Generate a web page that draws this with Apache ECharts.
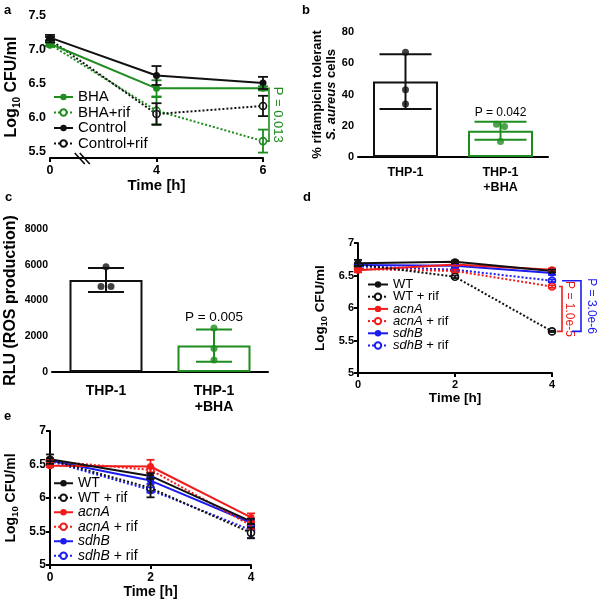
<!DOCTYPE html>
<html><head><meta charset="utf-8">
<script src="https://cdn.jsdelivr.net/npm/echarts@6/dist/echarts.min.js"></script>
<style>html,body{margin:0;padding:0;background:#fff}#c{width:597px;height:600px}</style>
</head><body><div id="c"></div>
<script>
const FONT = '"Liberation Sans", Arial, Helvetica, sans-serif';
const GREEN = '#1e8c1e', BLACK = '#111111', RED = '#f01c1c', BLUE = '#1c1cf0';

// ---------- Panel a ----------
const aTimes = ['0', '4', '6'];
const aYTicks = [5.5, 6.0, 6.5, 7.0, 7.5];
const aBHA = [7.09, 6.43, 6.43];
const aBHASd = [0.03, 0.12, 0.03];
const aBHArif = [7.08, 6.10, 5.65];
const aBHArifSd = [0.03, 0.20, 0.17];
const aCtrl = [7.18, 6.62, 6.51];
const aCtrlSd = [0.04, 0.14, 0.09];
const aCtrlRif = [7.15, 6.05, 6.17];
const aCtrlRifSd = [0.04, 0.16, 0.15];
const aNames = ['BHA', 'BHA+rif', 'Control', 'Control+rif'];
const aP = 'P = 0.013';

// ---------- Panel b ----------
const bCats = ['THP-1', 'THP-1\n+BHA'];
const bMeans = [48.3, 16.8];
const bSd = [17.5, 5.8];
const bPoints = [[67, 43, 34], [21, 19.5, 10]];
const bJitterPx = [[0, 0, 0], [-4, 4, 0]];
const bP = 'P = 0.042';

// ---------- Panel c ----------
const cCats = ['THP-1', 'THP-1\n+BHA'];
const cMeans = [5150, 1480];
const cSd = [670, 900];
const cPoints = [[5890, 4790, 4790], [2460, 1320, 670]];
const cJitterPx = [[0, -5, 5], [0, 0, 0]];
const cP = 'P = 0.005';

// ---------- Panels d and e ----------
const strainTimes = [0, 2, 4];
const strainNames = ['WT', 'WT + rif', 'acnA', 'acnA + rif', 'sdhB', 'sdhB + rif'];
const dWT = [6.69, 6.71, 6.57];
const dWTrif = [6.67, 6.48, 5.64];
const dAcnA = [6.58, 6.67, 6.59];
const dAcnArif = [6.60, 6.57, 6.33];
const dSdhB = [6.66, 6.65, 6.54];
const dSdhBrif = [6.64, 6.59, 6.42];
const dWTSd = [0.05, 0.02, 0.02];
const dWTrifSd = [0.02, 0.02, 0.01];
const dAcnASd = [0.03, 0.02, 0.02];
const dAcnArifSd = [0.02, 0.02, 0.02];
const dSdhBSd = [0.03, 0.02, 0.03];
const dSdhBrifSd = [0.02, 0.02, 0.02];
const dP1 = 'P = 1.0e-5';
const dP2 = 'P = 3.0e-6';

const eWT = [6.58, 6.33, 5.65];
const eWTrif = [6.57, 6.15, 5.48];
const eAcnA = [6.48, 6.47, 5.71];
const eAcnArif = [6.55, 6.42, 5.59];
const eSdhB = [6.56, 6.26, 5.63];
const eSdhBrif = [6.55, 6.12, 5.52];
const eWTSd = [0.07, 0.04, 0.04];
const eWTrifSd = [0.02, 0.14, 0.08];
const eAcnASd = [0.02, 0.10, 0.06];
const eAcnArifSd = [0.02, 0.04, 0.05];
const eSdhBSd = [0.02, 0.05, 0.05];
const eSdhBrifSd = [0.02, 0.04, 0.12];

// ---------- helpers ----------
function axisCommon(labelSize, extra) {
  const o = {
    axisLine: {onZero: false, lineStyle: {color: '#000', width: 2}},
    axisTick: {length: 4, lineStyle: {color: '#000', width: 2}},
    splitLine: {show: false},
    axisLabel: {color: '#000', fontWeight: 'bold', fontFamily: FONT, fontSize: labelSize, margin: 4},
    nameTextStyle: {color: '#000', fontWeight: 'bold', fontFamily: FONT, fontSize: 15}
  };
  for (const k in extra) {
    if (typeof extra[k] === 'object' && !Array.isArray(extra[k]) && o[k]) o[k] = Object.assign({}, o[k], extra[k]);
    else o[k] = extra[k];
  }
  return o;
}
function logName(size, sub, lh) {
  return {
    name: '{m|Log}{s|10}{m| CFU/ml}',
    nameTextStyle: {rich: {
      m: {fontSize: size, fontWeight: 'bold', fontFamily: FONT, color: '#000', lineHeight: lh},
      s: {fontSize: sub, fontWeight: 'bold', fontFamily: FONT, color: '#000', verticalAlign: 'bottom'}
    }}
  };
}
function errRender(halfCap, color, lw) {
  return function (params, api) {
    const x = api.value(0), m = api.value(1), s = api.value(2);
    const top = api.coord([x, m + s]);
    const bot = api.coord([x, m - s]);
    const style = {stroke: color, lineWidth: lw};
    return {type: 'group', children: [
      {type: 'line', shape: {x1: top[0], y1: top[1], x2: bot[0], y2: bot[1]}, style},
      {type: 'line', shape: {x1: top[0] - halfCap, y1: top[1], x2: top[0] + halfCap, y2: top[1]}, style},
      {type: 'line', shape: {x1: bot[0] - halfCap, y1: bot[1], x2: bot[0] + halfCap, y2: bot[1]}, style}
    ]};
  };
}
function errSeries(idx, xs, means, sds, halfCap, color, lw, z) {
  return {
    type: 'custom', xAxisIndex: idx, yAxisIndex: idx, silent: true, animation: false, z: z || 3,
    renderItem: errRender(halfCap, color, lw),
    data: means.map((m, i) => [xs[i], m, sds[i]])
  };
}
function lineSeries(idx, name, xs, vals, color, open, z) {
  return {
    type: 'line', name, xAxisIndex: idx, yAxisIndex: idx,
    data: vals.map((v, i) => [xs[i], v]),
    symbol: 'circle', symbolSize: 7, showSymbol: true,
    lineStyle: {color, width: 2, type: open ? [2, 2] : 'solid'},
    itemStyle: open ? {color: '#fff', borderColor: color, borderWidth: 1.6} : {color, borderColor: color, borderWidth: 0},
    emphasis: {disabled: true}, animation: false, z: z || 2
  };
}
function strainLabel(name) {
  const n = name.slice(2);
  const m = n.match(/^(acnA|sdhB)(.*)$/);
  if (m) return '{i|' + m[1] + '}' + (m[2] ? '{n|' + m[2] + '}' : '');
  return '{n|' + n + '}';
}

// ---------- build ----------
const aIdx = [0, 1, 2];
const series = [];
// panel a (index 0)
series.push(errSeries(0, aIdx, aBHArif, aBHArifSd, 5, GREEN, 1.8));
series.push(errSeries(0, aIdx, aBHA, aBHASd, 5, GREEN, 1.8));
series.push(errSeries(0, aIdx, aCtrlRif, aCtrlRifSd, 5, BLACK, 1.8));
series.push(errSeries(0, aIdx, aCtrl, aCtrlSd, 5, BLACK, 1.8));
series.push(lineSeries(0, aNames[1], aIdx, aBHArif, GREEN, true));
series.push(lineSeries(0, aNames[3], aIdx, aCtrlRif, BLACK, true));
series.push(lineSeries(0, aNames[0], aIdx, aBHA, GREEN, false));
series.push(lineSeries(0, aNames[2], aIdx, aCtrl, BLACK, false));

// panel b (index 1)
series.push({
  type: 'bar', xAxisIndex: 1, yAxisIndex: 1, barWidth: 65, animation: false, silent: true,
  data: bMeans.map((v, i) => ({value: v, itemStyle: {color: '#fff', borderColor: i ? GREEN : BLACK, borderWidth: 2}}))
});
series.push(Object.assign(errSeries(1, [0, 1], bMeans, bSd, 26, BLACK, 2), {
  renderItem: function (p, api) { return errRender(26, api.value(0) ? GREEN : BLACK, 2)(p, api); }
}));
series.push({
  type: 'scatter', xAxisIndex: 1, yAxisIndex: 1, symbolSize: 7, animation: false, silent: true, z: 5,
  data: bPoints.flatMap((pts, i) => pts.map((v, j) => ({value: [i, v], symbolOffset: [bJitterPx[i][j], 0], itemStyle: {color: i ? GREEN : BLACK}})))
});

// panel c (index 2)
series.push({
  type: 'bar', xAxisIndex: 2, yAxisIndex: 2, barWidth: 73, animation: false, silent: true,
  data: cMeans.map((v, i) => ({value: v, itemStyle: {color: '#fff', borderColor: i ? GREEN : BLACK, borderWidth: 2}}))
});
series.push(Object.assign(errSeries(2, [0, 1], cMeans, cSd, 18, BLACK, 2), {
  renderItem: function (p, api) { return errRender(18, api.value(0) ? GREEN : BLACK, 2)(p, api); }
}));
series.push({
  type: 'scatter', xAxisIndex: 2, yAxisIndex: 2, symbolSize: 7, animation: false, silent: true, z: 5,
  data: cPoints.flatMap((pts, i) => pts.map((v, j) => ({value: [i, v], symbolOffset: [cJitterPx[i][j], 0], itemStyle: {color: i ? GREEN : BLACK}})))
});

// panels d (3) and e (4)
function strainPanel(idx, pre, vals, sds) {
  const colors = [BLACK, BLACK, RED, RED, BLUE, BLUE];
  const order = [5, 4, 3, 2, 1, 0];
  order.forEach(k => series.push(errSeries(idx, strainTimes, vals[k], sds[k], 4, colors[k], 1.8)));
  order.forEach(k => series.push(lineSeries(idx, pre + strainNames[k], strainTimes, vals[k], colors[k], k % 2 === 1, 2 + (6 - k) * 0.01)));
}
strainPanel(3, 'd:', [dWT, dWTrif, dAcnA, dAcnArif, dSdhB, dSdhBrif], [dWTSd, dWTrifSd, dAcnASd, dAcnArifSd, dSdhBSd, dSdhBrifSd]);
strainPanel(4, 'e:', [eWT, eWTrif, eAcnA, eAcnArif, eSdhB, eSdhBrif], [eWTSd, eWTrifSd, eAcnASd, eAcnArifSd, eSdhBSd, eSdhBrifSd]);

const legendText = (size, lh) => ({
  color: '#000', fontFamily: FONT, fontSize: size, lineHeight: lh,
  rich: {
    n: {fontSize: size, fontFamily: FONT, color: '#000', lineHeight: lh},
    i: {fontSize: size, fontFamily: FONT, color: '#000', fontStyle: 'italic', lineHeight: lh}
  }
});

const option = {
  backgroundColor: '#fff',
  animation: false,
  grid: [
    {left: 50, top: 16, width: 213, height: 142},
    {left: 358, top: 32, width: 190, height: 125},
    {left: 52, top: 229, width: 216, height: 143},
    {left: 358, top: 243, width: 194, height: 130},
    {left: 50, top: 431, width: 201, height: 134}
  ],
  xAxis: [
    axisCommon(12.5, {type: 'category', gridIndex: 0, data: aTimes, boundaryGap: false,
      axisLabel: {margin: 6}, name: 'Time [h]', nameLocation: 'middle', nameGap: 14,
      nameTextStyle: {fontSize: 15}}),
    axisCommon(12.5, {type: 'category', gridIndex: 1, data: bCats, axisTick: {show: false},
      axisLabel: {margin: 8, lineHeight: 15}}),
    axisCommon(14, {type: 'category', gridIndex: 2, data: cCats, axisTick: {show: false},
      axisLabel: {margin: 11, lineHeight: 16}}),
    axisCommon(11, {type: 'value', gridIndex: 3, min: 0, max: 4, interval: 2,
      axisLabel: {margin: 6}, name: 'Time [h]', nameLocation: 'middle', nameGap: 18,
      nameTextStyle: {fontSize: 13.5}}),
    axisCommon(12, {type: 'value', gridIndex: 4, min: 0, max: 4, interval: 2,
      axisLabel: {margin: 7}, name: 'Time [h]', nameLocation: 'middle', nameGap: 17,
      nameTextStyle: {fontSize: 14}})
  ],
  yAxis: [
    Object.assign(axisCommon(12.5, {type: 'value', gridIndex: 0, min: 5.4, max: 7.5,
      axisTick: {customValues: aYTicks}, axisLabel: {customValues: aYTicks, formatter: v => v.toFixed(1)},
      nameLocation: 'middle', nameGap: 28}), logName(16, 10, 20)),
    axisCommon(11, {type: 'value', gridIndex: 1, min: 0, max: 80, interval: 20,
      name: '{b|% rifampicin tolerant}\n{i|S. aureus}{b| cells}', nameLocation: 'middle', nameGap: 18,
      nameTextStyle: {rich: {
        b: {fontSize: 13, fontWeight: 'bold', fontFamily: FONT, color: '#000', lineHeight: 13.5},
        i: {fontSize: 13, fontWeight: 'bold', fontStyle: 'italic', fontFamily: FONT, color: '#000', lineHeight: 13.5}
      }}}),
    axisCommon(10.5, {type: 'value', gridIndex: 2, min: 0, max: 8000, interval: 2000,
      axisLabel: {formatter: v => String(v)},
      name: 'RLU (ROS production)', nameLocation: 'middle', nameGap: 33,
      nameTextStyle: {fontSize: 16}}),
    Object.assign(axisCommon(11, {type: 'value', gridIndex: 3, min: 5, max: 7, interval: 0.5,
      nameLocation: 'middle', nameGap: 29}), logName(13.5, 9, 17)),
    Object.assign(axisCommon(12, {type: 'value', gridIndex: 4, min: 5, max: 7, interval: 0.5,
      nameLocation: 'middle', nameGap: 30}), logName(14, 9.5, 18))
  ],
  legend: [
    {left: 48, top: 84.5, orient: 'vertical', itemWidth: 19, itemHeight: 8, itemGap: 0.5,
      data: aNames, textStyle: {color: '#000', fontFamily: FONT, fontSize: 15, lineHeight: 15}, selectedMode: false},
    {left: 362, top: 273, orient: 'vertical', itemWidth: 20, itemHeight: 8, itemGap: -0.8,
      data: strainNames.map(n => 'd:' + n), formatter: strainLabel, textStyle: legendText(13, 12), selectedMode: false},
    {left: 48, top: 471, orient: 'vertical', itemWidth: 19, itemHeight: 8, itemGap: 0,
      data: strainNames.map(n => 'e:' + n), formatter: strainLabel, textStyle: legendText(14, 14.5), selectedMode: false}
  ],
  series
};

const chart = echarts.init(document.getElementById('c'), null, {renderer: 'canvas'});
chart.setOption(option);

// ---------- annotations ----------
const g = [];
function letter(t, x, y) {
  g.push({type: 'text', x, y, style: {text: t, font: 'bold 13px ' + FONT, fill: '#000'}});
}
letter('a', 4, 4); letter('b', 302, 4); letter('c', 5, 191); letter('d', 303, 191); letter('e', 4, 410);

function vText(t, x, y, color, size) {
  g.push({type: 'text', x, y, rotation: -Math.PI / 2,
    style: {text: t, font: size + 'px ' + FONT, fill: color, align: 'center', verticalAlign: 'middle'}});
}
function bracket(pts, color) {
  g.push({type: 'polyline', shape: {points: pts}, style: {stroke: color, lineWidth: 1.6, fill: null}});
}
// panel a bracket
const pa1 = chart.convertToPixel({xAxisIndex: 0, yAxisIndex: 0}, [2, aBHA[2]]);
const pa2 = chart.convertToPixel({xAxisIndex: 0, yAxisIndex: 0}, [2, aBHArif[2]]);
bracket([[pa1[0] + 1, pa1[1]], [pa1[0] + 6, pa1[1]], [pa1[0] + 6, pa2[1]], [pa1[0] + 1, pa2[1]]], GREEN);
vText(aP, pa1[0] + 15, (pa1[1] + pa2[1]) / 2, GREEN, 13);
// axis break marks in panel a
const b0 = chart.convertToPixel({xAxisIndex: 0, yAxisIndex: 0}, [0, 5.4]);
const b1 = chart.convertToPixel({xAxisIndex: 0, yAxisIndex: 0}, [1, 5.4]);
const bx = b0[0] + (b1[0] - b0[0]) * 0.27;
[0, 5].forEach(o => g.push({type: 'line', shape: {x1: bx + o - 4, y1: b0[1] - 5, x2: bx + o + 6, y2: b0[1] + 6},
  style: {stroke: '#000', lineWidth: 1.5}}));

// panel b / c P values
const pb = chart.convertToPixel({xAxisIndex: 1, yAxisIndex: 1}, [1, bMeans[1] + bSd[1]]);
g.push({type: 'text', x: pb[0], y: pb[1] - 3, style: {text: bP, font: '12px ' + FONT, fill: '#000', align: 'center', verticalAlign: 'bottom'}});
const pc = chart.convertToPixel({xAxisIndex: 2, yAxisIndex: 2}, [1, cMeans[1] + cSd[1]]);
g.push({type: 'text', x: pc[0], y: pc[1] - 5, style: {text: cP, font: '13.5px ' + FONT, fill: '#000', align: 'center', verticalAlign: 'bottom'}});

// panel d brackets
const dA = chart.convertToPixel({xAxisIndex: 3, yAxisIndex: 3}, [4, dAcnArif[2]]);
const dW = chart.convertToPixel({xAxisIndex: 3, yAxisIndex: 3}, [4, dWTrif[2]]);
const dS = chart.convertToPixel({xAxisIndex: 3, yAxisIndex: 3}, [4, dSdhBrif[2]]);
bracket([[dA[0] + 7, dA[1]], [dA[0] + 10, dA[1]], [dA[0] + 10, dW[1]], [dA[0] + 5, dW[1]]], RED);
vText(dP1, dA[0] + 17, (dA[1] + dW[1]) / 2, RED, 12);
bracket([[dS[0] + 10, dS[1]], [dS[0] + 29, dS[1]], [dS[0] + 29, dW[1]], [dS[0] + 20, dW[1]]], BLUE);
vText(dP2, dS[0] + 39, (dS[1] + dW[1]) / 2, BLUE, 12);

chart.setOption({graphic: g});
</script></body></html>
